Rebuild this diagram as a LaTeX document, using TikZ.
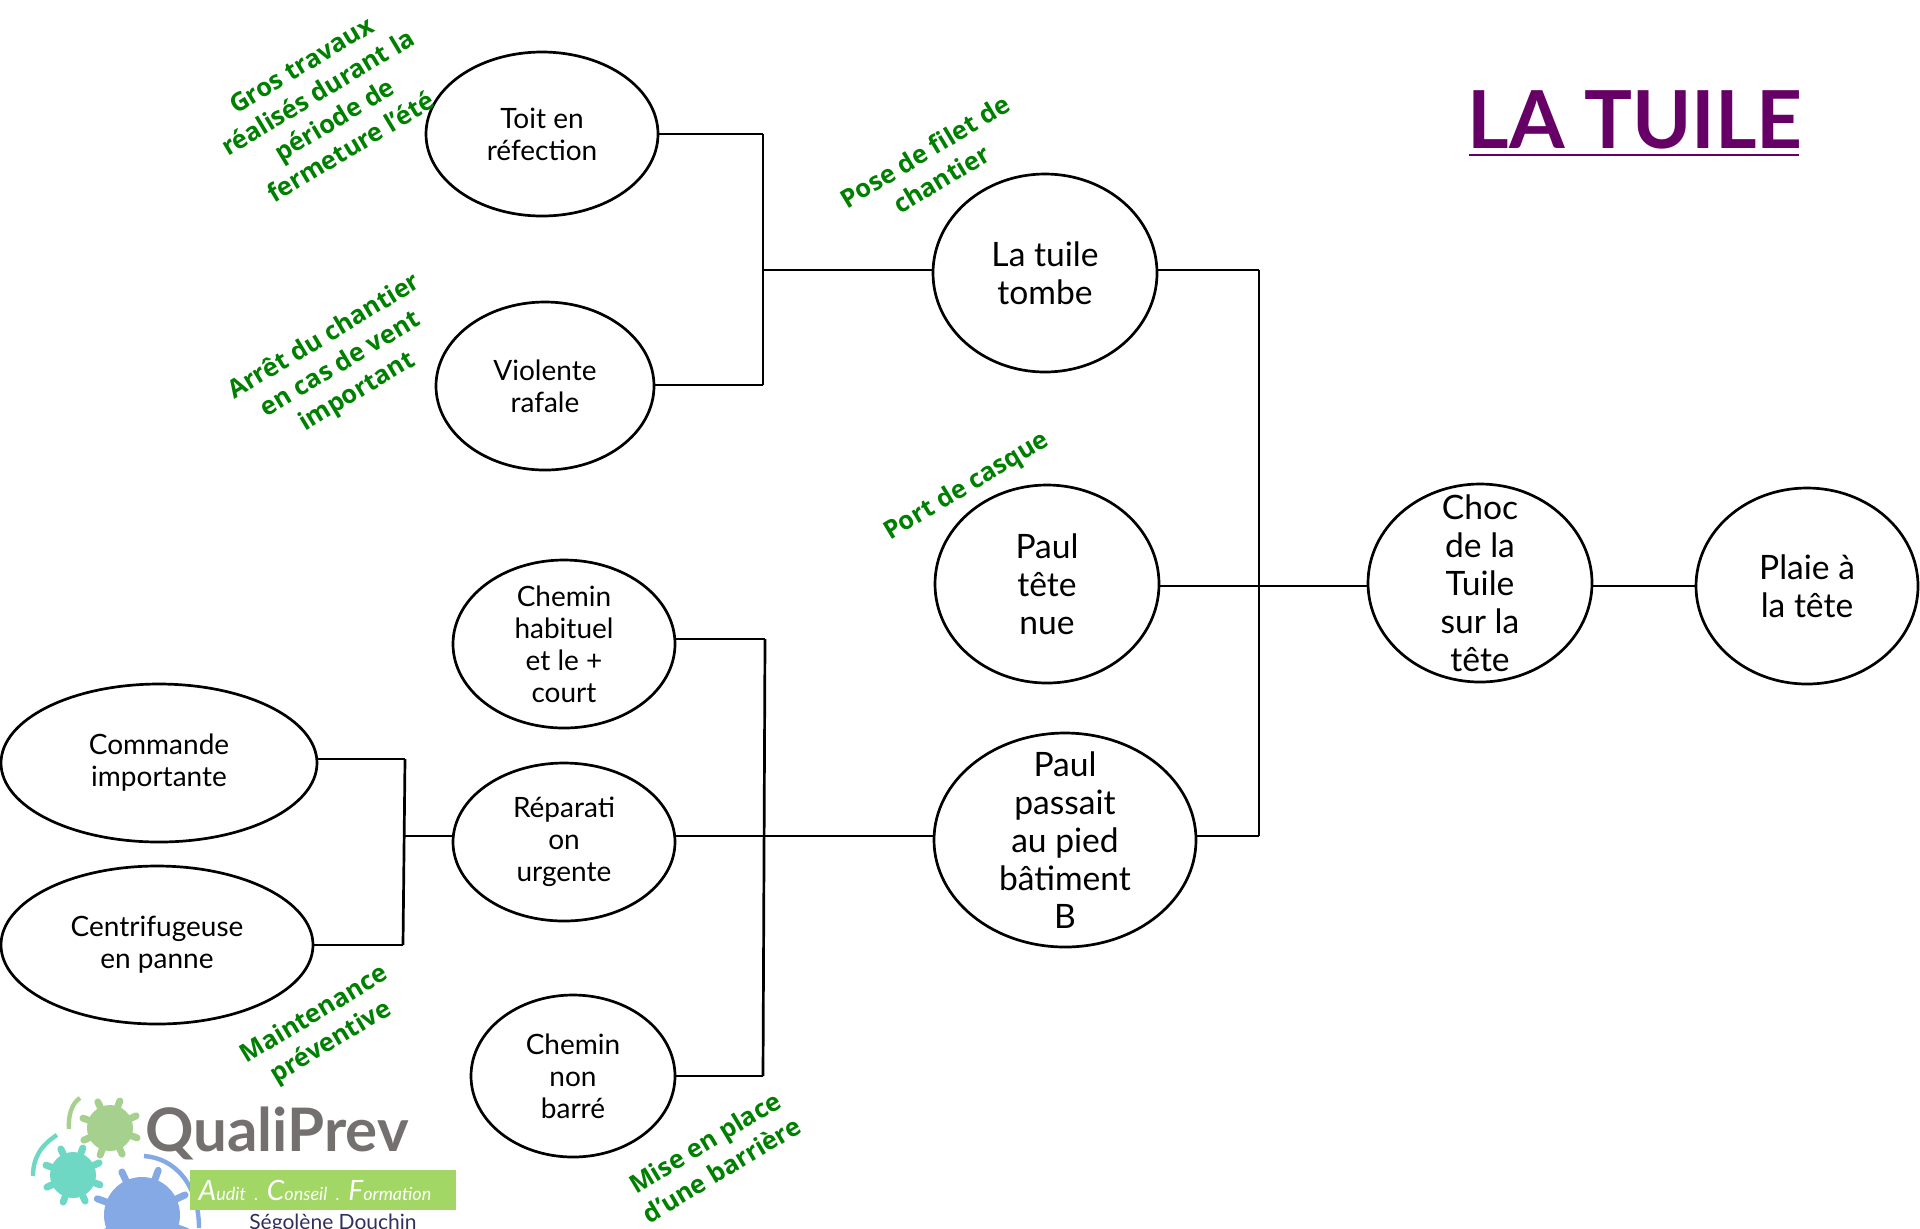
\documentclass[tikz,border=0pt]{standalone}
\usepackage{fontspec}
\setmainfont{Lato}
\newfontfamily\notefont{Open Sans}
\definecolor{notegreen}{HTML}{008000}
\definecolor{titlepurple}{HTML}{660066}
\definecolor{logogrey}{HTML}{757070}
\definecolor{logobar}{HTML}{A2D766}
\definecolor{gearleaf}{HTML}{A6D08E}
\definecolor{gearteal}{HTML}{6FD8C4}
\definecolor{gearblue}{HTML}{85A9E4}
\newcommand{\logogear}[4]{%
    \fill[#4] (#1,#2) circle (#3);
    \foreach \a in {0,45,...,315}
        \draw[#4,line width=3.5pt,line cap=round] (#1,#2) ++(\a+20:#3) -- ++(\a+20:0.25*#3);
}
\tikzset{
    bubble/.style={draw,ellipse,line width=1.35pt,inner sep=-30pt,align=center,
        execute at begin node={\rule{0pt}{1.15em}}},
    small/.style={bubble,font=\fontsize{14}{16}\selectfont},
    large/.style={bubble,font=\fontsize{16.8}{19}\selectfont},
    note/.style={text=notegreen,align=center,rotate=31,
        font=\notefont\bfseries\fontsize{12.7}{16}\selectfont},
    wire/.style={line width=1.35pt}
}
\usetikzlibrary{shapes.geometric}
\begin{document}
\begin{tikzpicture}[x=0.5pt,y=-0.5pt]
    \clip (0,0) rectangle (1920,1228);

    \node[small] (toit)     [minimum width=116pt,minimum height=82pt]   at (542,134)  {Toit en\\réfection};
    \node[small] (violente) [minimum width=109pt,minimum height=84pt]   at (545,386)  {Violente\\rafale};
    \node[small] (habituel) [minimum width=111pt,minimum height=84pt]   at (564,644)  {Chemin\\habituel\\et le +\\court};
    \node[small] (urgente)  [minimum width=111pt,minimum height=79pt]   at (564,842)  {Réparati\\on\\urgente};
    \node[small] (barre)    [minimum width=102pt,minimum height=81pt]   at (573,1076) {Chemin\\non\\barré};
    \node[small] (commande) [minimum width=158pt,minimum height=79pt]   at (159,763)  {Commande\\importante};
    \node[small] (panne)    [minimum width=156pt,minimum height=79pt]   at (157,945)  {Centrifugeuse\\en panne};
    \node[large] (tuile)    [minimum width=112pt,minimum height=99pt]   at (1045,273) {La tuile\\tombe};
    \node[large] (nue)      [minimum width=112pt,minimum height=99pt]   at (1047,584) {Paul\\tête\\nue};
    \node[large] (passait)  [minimum width=131pt,minimum height=107pt]  at (1065,840) {Paul\\passait\\au pied\\bâtiment\\B};
    \node[large] (choc)     [minimum width=112pt,minimum height=99pt]   at (1480,583) {Choc\\de la\\Tuile\\sur la\\tête};
    \node[large] (plaie)    [minimum width=111pt,minimum height=98pt]   at (1807,586) {Plaie à\\la tête};

    \node[note] (gros)  at (326,106)  {Gros travaux\\réalisés durant la\\période de\\fermeture l’été};
    \node[note] (arret) at (341,365)  {Arrêt du chantier\\en cas de vent\\important};
    \node[note] (pose)  at (933,165)  {Pose de filet de\\chantier};
    \node[note] (port)  at (967,487)  {Port de casque};
    \node[note] (maint) at (323,1029) {Maintenance\\préventive};
    \node[note] (mise)  at (713,1156) {Mise en place\\d’une barrière};

    \node[text=titlepurple,inner sep=0pt,font=\bfseries\fontsize{40}{40}\selectfont]
        (titre) at (1635,120) {LA TUILE};
    \coordinate (soulignea) at (1469,155);
    \coordinate (souligneb) at (1799,155);
    \draw[titlepurple,line width=1.3pt] (soulignea) -- (souligneb);

    \coordinate (jtoit)     at (763,134);
    \coordinate (jviolente) at (763,385);
    \coordinate (jtuile)    at (763,270);
    \coordinate (jhaut)     at (1259,270);
    \coordinate (jnue)      at (1259,586);
    \coordinate (jbas)      at (1259,836);
    \coordinate (jhabituel) at (765,639);
    \coordinate (jbarre)    at (763,1076);
    \coordinate (jurgente)  at (764,836);
    \coordinate (jcommande) at (405,759);
    \coordinate (jpanne)    at (403,945);
    \coordinate (jcause)    at (404,836);

    \path[wire]
    (toit.east)
        edge (jtoit)
    (violente.east |- jviolente)
        edge (jviolente)
    (jtoit)
        edge (jviolente)
    (jtuile)
        edge (tuile.west |- jtuile)
    (tuile.east |- jhaut)
        edge (jhaut)
    (jhaut)
        edge (jbas)
    (nue.east |- jnue)
        edge (jnue)
    (jnue)
        edge (choc.west |- jnue)
    (choc.east |- jnue)
        edge (plaie.west |- jnue)
    (passait.east |- jbas)
        edge (jbas)
    (habituel.east |- jhabituel)
        edge (jhabituel)
    (barre.east)
        edge (jbarre)
    (jhabituel)
        edge (jbarre)
    (urgente.east |- jurgente)
        edge (jurgente)
    (jurgente)
        edge (passait.west |- jurgente)
    (commande.east |- jcommande)
        edge (jcommande)
    (panne.east)
        edge (jpanne)
    (jcommande)
        edge (jpanne)
    (jcause)
        edge (urgente.west |- jcause);

    % logo
    \logogear{110}{1128}{23}{gearleaf}
    \logogear{73}{1175}{23}{gearteal}
    \logogear{142}{1215}{38}{gearblue}
    \draw[gearleaf,line width=2.2pt] (69,1129) .. controls (68,1115) and (72,1103) .. (80,1098);
    \draw[gearteal,line width=2.2pt] (33,1176) .. controls (33,1158) and (41,1145) .. (57,1135);
    \draw[gearblue,line width=2.2pt] (144,1156) .. controls (175,1158) and (199,1185) .. (199,1228);
    \node[inner sep=0pt,text=logogrey,font=\bfseries\fontsize{30}{30}\selectfont]
        (quali) at (277,1133) {QualiPrev};
    \node[fill=logobar,minimum width=133pt,minimum height=20pt,inner sep=0pt]
        (bandeau) at (323,1190) {};
    \node[text=white,inner sep=0pt,font=\itshape\fontsize{9}{9}\selectfont]
        (audit) at (315,1190) {\fontsize{14}{14}\selectfont A\fontsize{9}{9}\selectfont udit~~.~~\fontsize{14}{14}\selectfont C\fontsize{9}{9}\selectfont onseil~~.~~\fontsize{14}{14}\selectfont F\fontsize{9}{9}\selectfont ormation};
    \node[inner sep=0pt,text=logogrey!70!blue!60!black,font=\fontsize{10.5}{11}\selectfont]
        (segolene) at (333,1224) {Ségolène Douchin};
\end{tikzpicture}
\end{document}
